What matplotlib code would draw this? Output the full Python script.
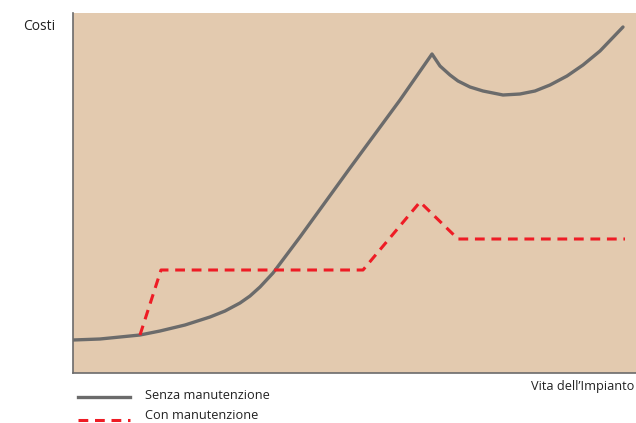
import numpy as np
import matplotlib.pyplot as plt
from matplotlib.lines import Line2D

# curve values (x = time, y = cost)
senza_x = [0, 27, 67, 87, 112, 137, 152, 167, 177, 187, 200, 227, 277, 327, 359,
           367, 377, 385, 397, 410, 430, 447, 462, 477, 494, 510, 527, 550]
senza_y = [33, 34, 38, 42, 48, 56, 62, 70, 77, 86, 100, 136, 205, 273, 319,
           307, 298, 292, 286, 282, 278, 279, 282, 288, 297, 308, 322, 346]

con_x = [67, 88, 290, 347, 385, 552]
con_y = [38, 103, 103, 171, 134, 134]

bg = '#e3caaf'
grey = '#6b6b6b'
red = '#ee1c25'

fig = plt.figure(figsize=(6.36, 4.23), dpi=100)
ax = fig.add_axes([73 / 636, 50 / 423, 1 - 73 / 636, 360 / 423])
ax.set_facecolor(bg)
ax.set_xlim(0, 563)
ax.set_ylim(0, 360)

ax.plot(senza_x, senza_y, color=grey, lw=2.4, solid_capstyle='round', solid_joinstyle='round')
ax.plot(con_x, con_y, color=red, lw=2.2, linestyle=(0, (3.2, 2.2)))

ax.set_xticks([])
ax.set_yticks([])
for s in ['top', 'right']:
    ax.spines[s].set_visible(False)
for s in ['left', 'bottom']:
    ax.spines[s].set_color(grey)
    ax.spines[s].set_linewidth(1.2)

font = 'Open Sans'
fig.text(39 / 636, 1 - 27 / 423, 'Costi', fontsize=10, family=font, ha='center', va='center', color='#222222')
fig.text(634 / 636, 1 - 386 / 423, 'Vita dell\u2019Impianto', fontsize=9.2, family=font, ha='right', va='center', color='#222222')

fig.lines.append(Line2D([78 / 636, 130 / 636], [1 - 397 / 423, 1 - 397 / 423], transform=fig.transFigure, color=grey, lw=2.4))
fig.lines.append(Line2D([78 / 636, 130 / 636], [1 - 420 / 423, 1 - 420 / 423], transform=fig.transFigure, color=red, lw=2.2, linestyle=(0, (3.2, 2.2))))
fig.text(145 / 636, 1 - 395 / 423, 'Senza manutenzione', fontsize=9.2, family=font, ha='left', va='center', color='#222222')
fig.text(145 / 636, 1 - 415 / 423, 'Con manutenzione', fontsize=9.2, family=font, ha='left', va='center', color='#222222')

fig.savefig('out.png', dpi=100)
